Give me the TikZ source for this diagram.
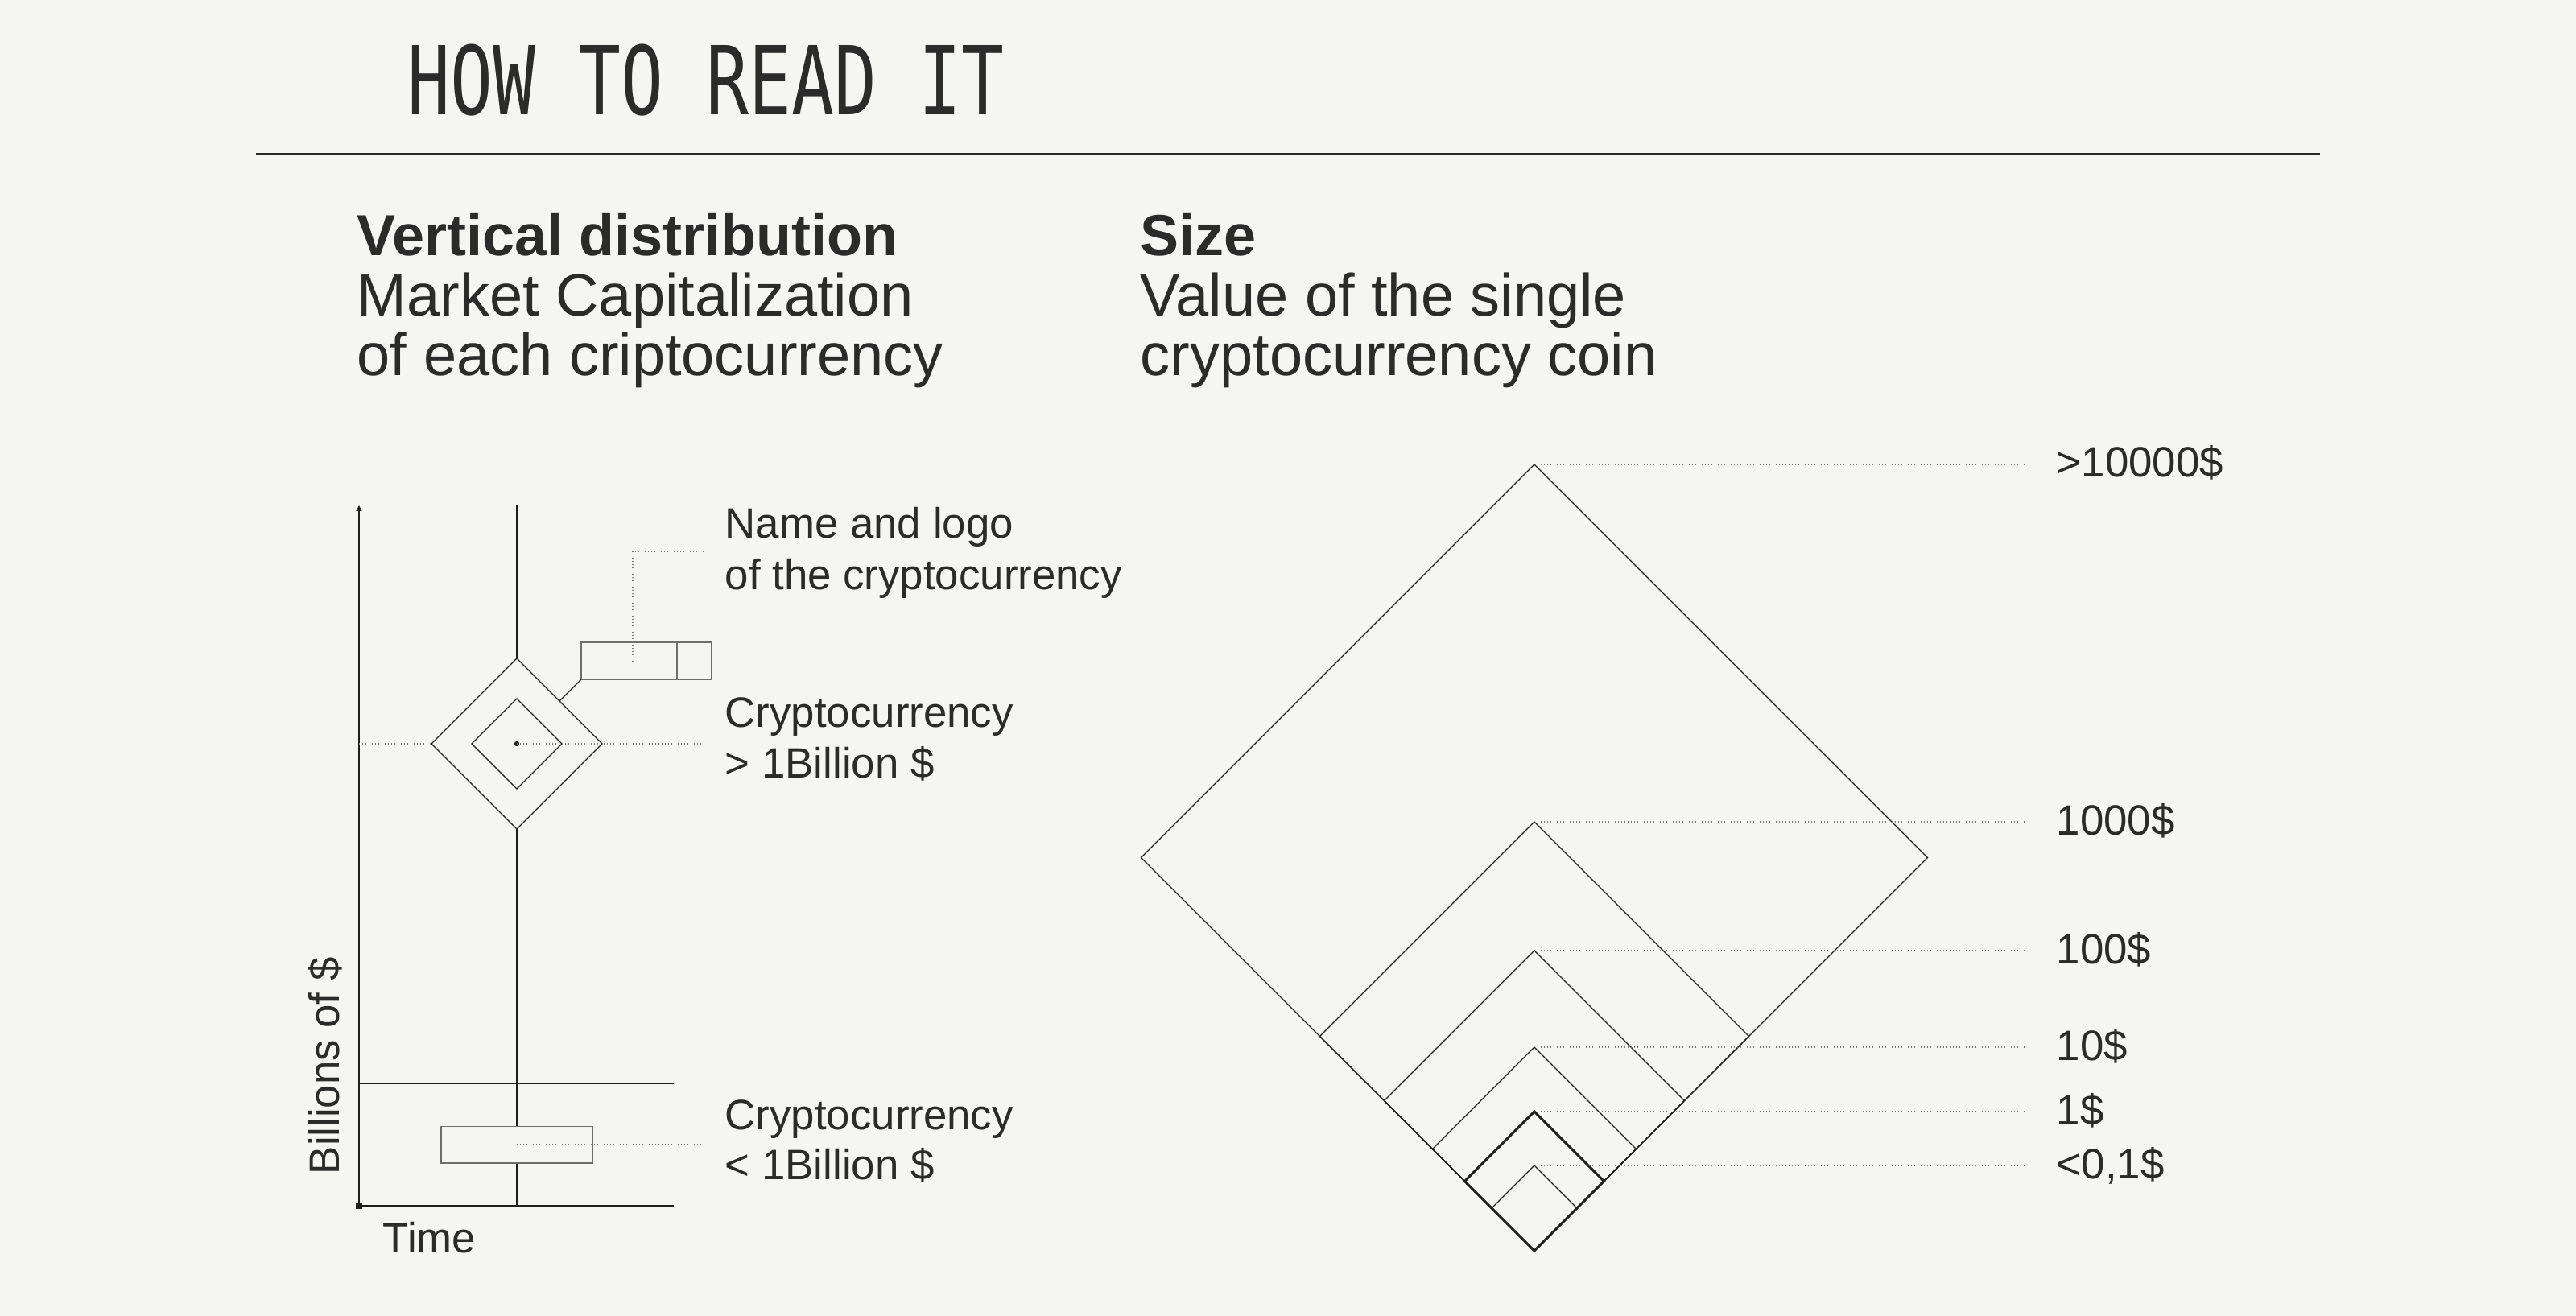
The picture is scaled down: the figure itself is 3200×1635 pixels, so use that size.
\documentclass[tikz,border=0pt]{standalone}
\usepackage{fontspec}
\setmainfont{Liberation Sans}
\newfontfamily\titlefont{DejaVu Sans Mono}
\usetikzlibrary{arrows.meta}
\definecolor{bg}{HTML}{F5F5F3}
\definecolor{ink}{HTML}{2B2B2B}
\definecolor{linec}{HTML}{1E1E1E}
\definecolor{boxgray}{HTML}{6E6E6E}
\definecolor{dotgray}{HTML}{7A7A7A}
\begin{document}
\begin{tikzpicture}[x=0.25pt,y=-0.25pt,
  thinline/.style={line width=0.32pt, draw=linec},
  boldline/.style={line width=0.75pt, draw=linec},
  greybox/.style={line width=0.4pt, draw=boxgray},
  leader/.style={line width=0.3pt, draw=dotgray, dash pattern=on 0.3pt off 0.7pt},
  headb/.style={anchor=base west, inner sep=0pt, text=ink, font=\fontsize{18pt}{18pt}\selectfont\bfseries},
  head/.style={anchor=base west, inner sep=0pt, text=ink, font=\fontsize{18.5pt}{18.5pt}\selectfont},
  lbl/.style={anchor=base west, inner sep=0pt, text=ink, font=\fontsize{13.2pt}{13.2pt}\selectfont},
]
% background / bounding box
\fill[bg] (0,0) rectangle (3200,1635);
\useasboundingbox (0,0) rectangle (3200,1635);

% title
\node[anchor=base west, inner sep=0pt, text=ink] (title) at (506,143)
  {\scalebox{0.745}[1]{\titlefont\fontsize{29.5pt}{29.5pt}\selectfont HOW TO READ IT}};
\coordinate (ruleL) at (318,191);
\coordinate (ruleR) at (2882,191);
\draw[line width=0.45pt, draw=ink] (ruleL) -- (ruleR);

% headings
\node[headb] (h1a) at (443,318) {Vertical distribution};
\node[head]  (h1b) at (443,393) {Market Capitalization};
\node[head]  (h1c) at (443,467) {of each criptocurrency};
\node[headb] (h2a) at (1416,318) {Size};
\node[head]  (h2b) at (1416,393) {Value of the single};
\node[head]  (h2c) at (1416,467) {cryptocurrency coin};

% ---------- left chart ----------
\coordinate (yb) at (446,1498);
\coordinate (yt) at (446,628);
\coordinate (xr) at (837,1498);
\draw[thinline, -{Triangle[length=1.7pt,width=1.7pt]}] (yb) -- (yt);
\draw[thinline] (yb) -- (xr);
\node[fill=linec, inner sep=0pt, minimum size=1.8pt] (orig) at (yb) {};

% threshold line
\coordinate (thL) at (446,1346);
\coordinate (thR) at (837,1346);
\draw[thinline] (thL) -- (thR);

% diamond glyph
\coordinate (dc) at (642,924);
\coordinate (dT) at (642,818);
\coordinate (dB) at (642,1030);
\coordinate (dL) at (536,924);
\coordinate (dR) at (748,924);
\coordinate (iT) at (642,868);
\coordinate (iB) at (642,980);
\coordinate (iL) at (586,924);
\coordinate (iR) at (698,924);
\draw[thinline] (dT) -- (dR) -- (dB) -- (dL) -- cycle;
\draw[thinline] (iT) -- (iR) -- (iB) -- (iL) -- cycle;
\fill[linec] (dc) circle (3.2);

% central time line
\coordinate (ct) at (642,628);
\coordinate (lbT) at (642,1399.5);
\coordinate (lbB) at (642,1445);
\coordinate (cb) at (642,1498);
\draw[thinline] (ct) -- (dT);
\draw[thinline] (dB) -- (lbT);
\draw[thinline] (lbB) -- (cb);

% small coin box
\coordinate (sbSW) at (548,1445);
\coordinate (sbNE) at (736,1399.5);
\draw[greybox] (sbSW) rectangle (sbNE);
\coordinate (sbC) at (642,1422);
\coordinate (sbLab) at (875,1422);
\draw[leader] (sbC) -- (sbLab);

% name box
\coordinate (nbSW) at (722,844);
\coordinate (nbNE) at (884,798);
\coordinate (nbDt) at (841,798);
\coordinate (nbDb) at (841,844);
\draw[greybox] (nbSW) rectangle (nbNE);
\draw[greybox] (nbDt) -- (nbDb);
\coordinate (dEdge) at (695,871);
\draw[thinline] (dEdge) -- (nbSW);
\coordinate (nbIn) at (786,822);
\coordinate (nbUp) at (786,685);
\coordinate (nbLab) at (875,685);
\draw[leader] (nbIn) -- (nbUp) -- (nbLab);

% horizontal leader through diamond
\coordinate (axL) at (446,924);
\coordinate (dLab) at (875,924);
\draw[leader] (axL) -- (dL);
\draw[leader] (dc) -- (dLab);

% left labels
\node[lbl] (n1) at (900,669) {Name and logo};
\node[lbl] (n2) at (900,733) {of the cryptocurrency};
\node[lbl] (c1) at (900,903) {Cryptocurrency};
\node[lbl] (c2) at (900,966) {> 1Billion \$};
\node[lbl] (c3) at (900,1403) {Cryptocurrency};
\node[lbl] (c4) at (900,1465) {< 1Billion \$};
\node[lbl] (time) at (475,1556) {Time};
\node[lbl, rotate=90] (bil) at (421,1460) {Billions of \$};

% ---------- right chart: nested diamonds sharing bottom vertex ----------
\coordinate (B) at (1906,1554);
\foreach \t/\nm in {577/a,1021/b,1181/c,1301/d,1448/f}{
  \pgfmathsetmacro{\h}{(1554-\t)/2}
  \coordinate (T\nm) at (1906,\t);
  \coordinate (L\nm) at ({1906-\h},{1554-\h});
  \coordinate (R\nm) at ({1906+\h},{1554-\h});
  \draw[thinline] (B) -- (L\nm) -- (T\nm) -- (R\nm) -- cycle;
}
\coordinate (Te) at (1906,1381);
\coordinate (Le) at (1819.5,1467.5);
\coordinate (Re) at (1992.5,1467.5);
\draw[boldline] (B) -- (Le) -- (Te) -- (Re) -- cycle;

% leaders and value labels
\foreach \t/\nm/\txt in {577/a/{>10000\$},1021/b/{1000\$},1181/c/{100\$},1301/d/{10\$},1381/e/{1\$},1448/f/{<0,1\$}}{
  \coordinate (E\nm) at (2516,\t);
  \draw[leader] ([xshift=2pt]T\nm) -- (E\nm);
  \node[lbl] (V\nm) at (2554,{\t+16}) {\txt};
}
\end{tikzpicture}
\end{document}
